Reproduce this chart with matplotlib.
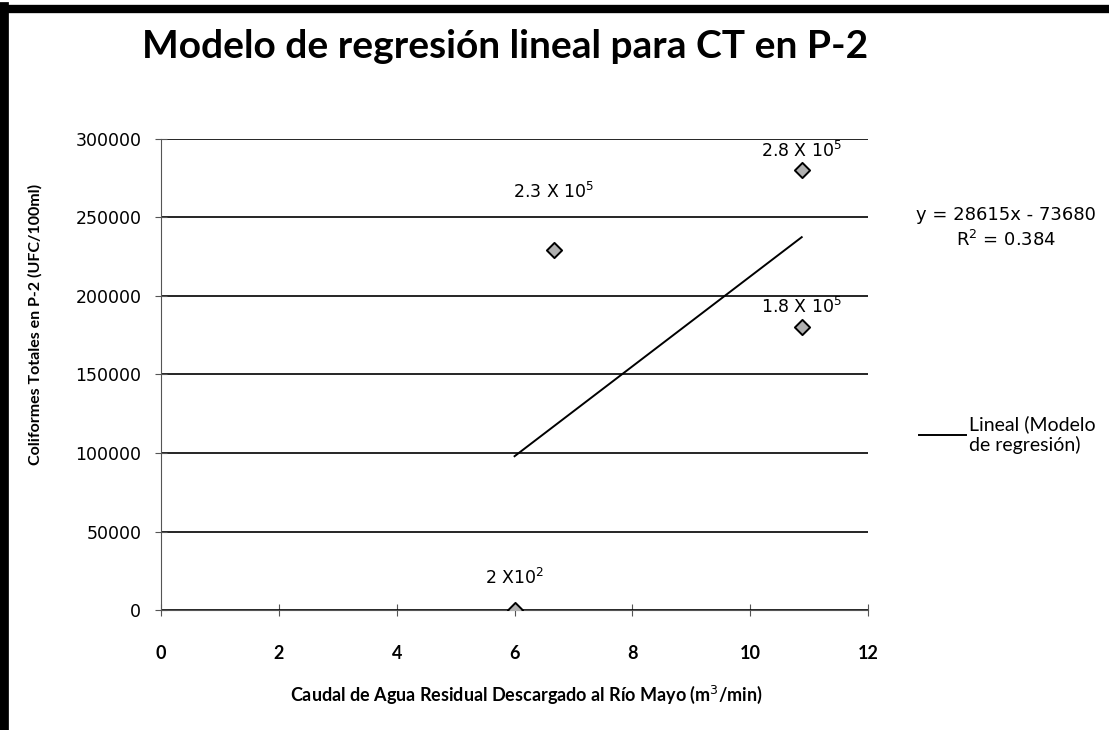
import numpy as np
import matplotlib.pyplot as plt
from matplotlib.lines import Line2D

# data
caudal = [6.0, 6.67, 10.87, 10.87]
coliformes = [200, 229000, 280000, 180000]
etiquetas = ["2 X10$^{2}$", "2.3 X 10$^{5}$", "2.8 X 10$^{5}$", "1.8 X 10$^{5}$"]
label_offset = [(0, 22), (0, 48), (0, 9), (0, 10)]

pendiente = 28615
intercepto = -73680
r2 = 0.384
x_trend = [6.0, 10.87]

fig = plt.figure(figsize=(11.09, 7.30), dpi=100)
ax = fig.add_axes([0.145, 0.164, 0.638, 0.646])

y_trend = [pendiente * x + intercepto for x in x_trend]
ax.plot(x_trend, y_trend, color="black", lw=1.4, label="Lineal (Modelo\nde regresión)")
ax.scatter(caudal, coliformes, marker="D", s=60, facecolor="#b0b0b0",
           edgecolor="black", linewidth=1.4, zorder=3)

for x, y, t, off in zip(caudal, coliformes, etiquetas, label_offset):
    ax.annotate(t, (x, y), xytext=off, textcoords="offset pixels",
                ha="center", va="bottom", fontsize=12.5, family="DejaVu Sans")

ax.set_xlim(0, 12)
ax.set_ylim(0, 300000)
ax.set_xticks(range(0, 13, 2))
ax.set_yticks(range(0, 300001, 50000))
ax.grid(axis="y", color="black", lw=1.2)
ax.set_axisbelow(True)
for s in ["top", "right"]:
    ax.spines[s].set_visible(False)
ax.spines["left"].set_color("#555555")
ax.spines["bottom"].set_color("#555555")
ax.tick_params(axis="both", direction="inout", length=8, color="#555555")
ax.tick_params(axis="x", pad=21)
ax.tick_params(axis="y", pad=10)
for lab in ax.get_yticklabels():
    lab.set_fontfamily("DejaVu Sans")
    lab.set_fontsize(12.5)
for lab in ax.get_xticklabels():
    lab.set_fontfamily("Lato")
    lab.set_fontweight("bold")
    lab.set_fontsize(13)

fig.text(0.455, 0.936, "Modelo de regresión lineal para CT en P-2",
         ha="center", va="center", fontsize=28, fontweight="bold", family="Lato")
fig.text(0.032, 0.555, "Coliformes Totales en P-2 (UFC/100ml)", rotation=90,
         ha="center", va="center", fontsize=11.5, fontweight="bold", family="Lato")
fig.text(0.475, 0.048, "Caudal de Agua Residual Descargado al Río Mayo (m$^{3}$/min)",
         ha="center", va="center", fontsize=13, fontweight="bold", family="Lato")
fig.text(0.907, 0.688, "y = %dx - %d\nR$^{2}$ = %.3f" % (pendiente, -intercepto, r2),
         ha="center", va="center", fontsize=13, family="DejaVu Sans", linespacing=1.35)

fig.legend(loc="center left", bbox_to_anchor=(0.813, 0.405), frameon=False,
           prop={"family": "Lato", "size": 14}, handlelength=2.4, handletextpad=0.15)

# thick frame at top and left like the scanned image
fig.add_artist(Line2D([0.004, 0.004], [0, 0.99], color="black", lw=7, transform=fig.transFigure))
fig.add_artist(Line2D([0, 1], [0.988, 0.988], color="black", lw=6, transform=fig.transFigure))

plt.savefig("out.png", dpi=100)
